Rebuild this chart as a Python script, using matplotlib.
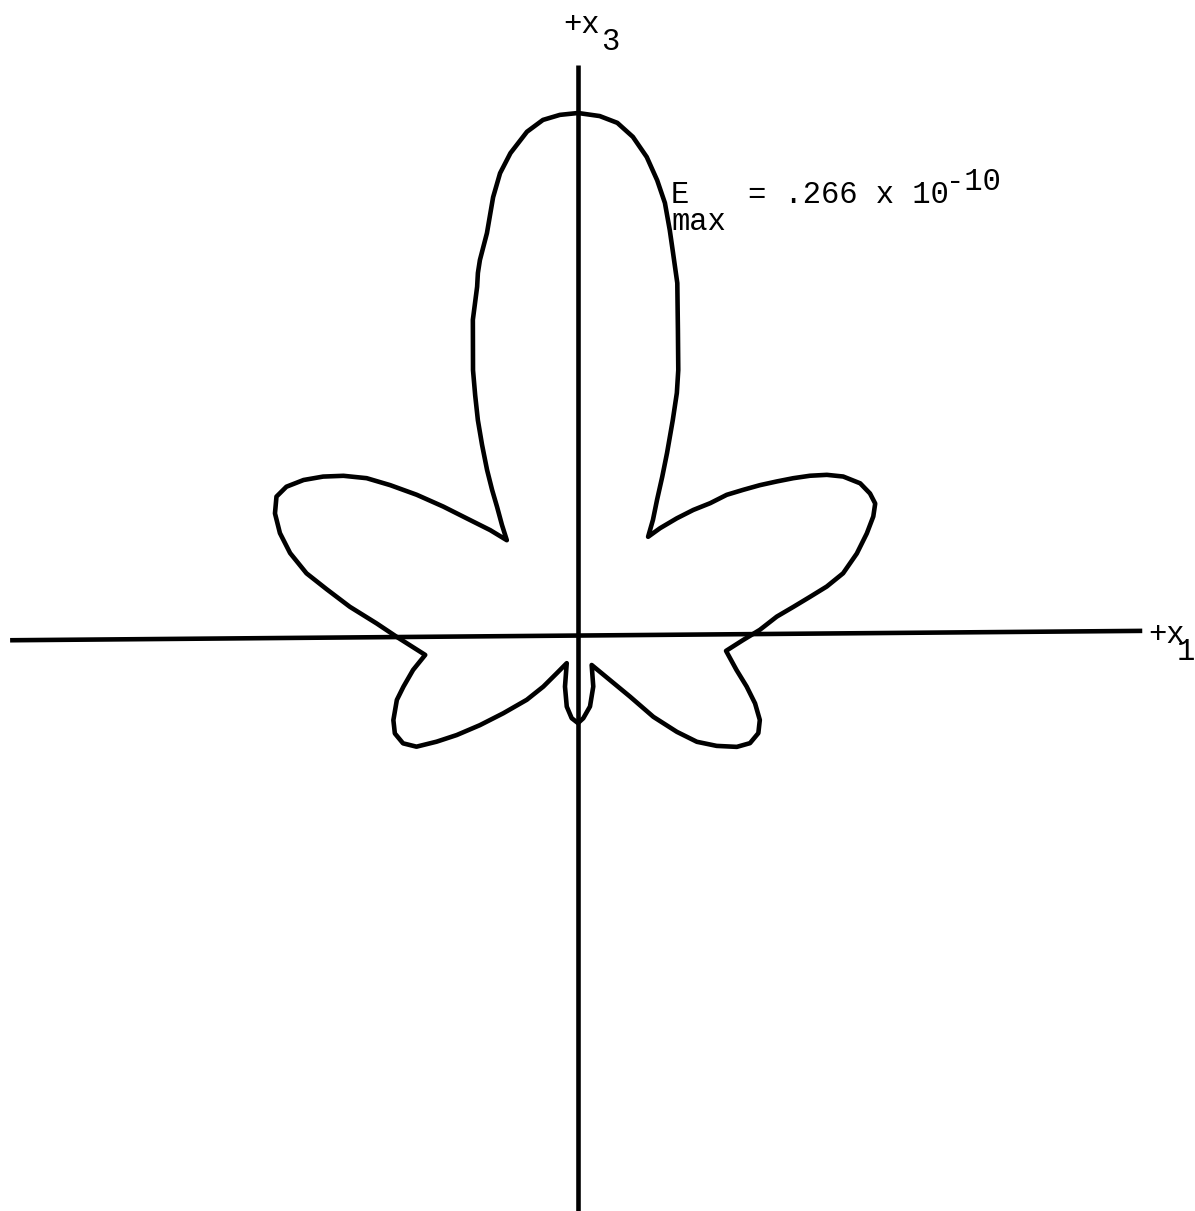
import numpy as np
import matplotlib
matplotlib.use('Agg')
import matplotlib.pyplot as plt

# radiation pattern in the x1-x3 plane: angle from +x3 toward +x1 (deg), field relative to E_max
theta_deg = [0.0, 2.4, 4.4, 6.3, 8.2, 9.9, 11.4, 12.8, 14.0, 15.8, 18.2, 20.8, 22.3, 23.9,
             25.0, 26.2, 28.2, 30.5, 33.3, 35.8,
             37.8, 40.5, 42.9, 45.3, 46.9, 48.9, 50.7, 52.5, 54.1, 55.7, 57.4, 59.3, 61.9,
             64.3, 66.3, 68.3, 70.8, 73.9, 77.1, 79.2, 80.9, 82.8, 85.0, 88.7, 92.1, 96.5,
             102.8, 107.3, 111.4, 115.3, 118.8, 122.4, 125.4, 128.9, 132.2, 134.7, 137.7,
             140.3, 145.2, 156.2,
             163.8, 170.6, 176.4, 180.0, 184.3, 188.8, 193.9, 201.1,
             208.5, 213.4, 217.9, 223.3, 227.1, 230.2, 232.7, 235.1, 238.0, 241.5, 245.0,
             250.0, 253.2, 257.7, 262.2,
             266.9, 269.1, 273.0, 276.8, 280.1, 282.6, 285.7, 288.7, 291.7, 294.5, 296.8,
             299.3, 301.7, 304.0, 306.4, 308.4, 310.8, 313.4, 316.1, 319.8, 322.8,
             325.1, 327.5, 329.2, 331.0, 333.1, 334.9, 336.7, 338.3, 341.5, 343.8, 344.5,
             345.3, 347.2, 349.0, 350.4, 352.0, 354.2, 356.1, 358.0]
e_rel = [1.000, 0.995, 0.984, 0.960, 0.925, 0.884, 0.844, 0.795, 0.754, 0.700, 0.614, 0.542, 0.500, 0.449,
         0.417, 0.387, 0.342, 0.299, 0.262, 0.230,
         0.257, 0.292, 0.325, 0.357, 0.391, 0.421, 0.451, 0.481, 0.510, 0.539, 0.567, 0.592, 0.614,
         0.622, 0.623, 0.610, 0.587, 0.557, 0.522, 0.486, 0.451, 0.417, 0.383, 0.349, 0.317, 0.286,
         0.312, 0.339, 0.365, 0.386, 0.395, 0.391, 0.374, 0.342, 0.308, 0.267, 0.215,
         0.156, 0.108, 0.065,
         0.105, 0.141, 0.162, 0.171, 0.162, 0.141, 0.104, 0.060,
         0.086, 0.121, 0.160, 0.209, 0.257, 0.303, 0.341, 0.378, 0.396, 0.400, 0.391,
         0.370, 0.350, 0.324, 0.296,
         0.329, 0.348, 0.387, 0.441, 0.490, 0.534, 0.574, 0.604, 0.626, 0.636, 0.627,
         0.604, 0.575, 0.543, 0.504, 0.460, 0.409, 0.356, 0.308, 0.261, 0.226,
         0.255, 0.289, 0.322, 0.360, 0.407, 0.453, 0.499, 0.545, 0.636, 0.694, 0.719,
         0.742, 0.789, 0.854, 0.897, 0.932, 0.969, 0.989, 0.997]

# axis lines (in units of E_max)
x1_axis_x = [-1.090, 1.083]
x1_axis_y = [-0.012, 0.006]
x3_axis_x = [0.0, 0.0]
x3_axis_y = [1.092, -1.107]

th = np.radians(theta_deg + [theta_deg[0]])
r = np.array(e_rel + [e_rel[0]])
x = r * np.sin(th)
y = r * np.cos(th)

fig = plt.figure(figsize=(11.95, 12.11), dpi=100)
ax = fig.add_axes([0, 0, 1, 1])
scale = 521.0  # pixels per E_max
ax.set_xlim(-578 / scale, (1195 - 578) / scale)
ax.set_ylim((634 - 1211) / scale, 634 / scale)
ax.axis('off')

lw = 3.3
ax.plot(x1_axis_x, x1_axis_y, color='black', lw=lw, solid_capstyle='butt')
ax.plot(x3_axis_x, x3_axis_y, color='black', lw=lw, solid_capstyle='butt')
ax.plot(x, y, color='black', lw=lw, solid_joinstyle='round', solid_capstyle='round')

font = dict(family='Liberation Mono', fontsize=22, color='black', va='baseline', ha='left')
ax.text(-0.029, 1.154, '+x', **font)
ax.text(0.061, 1.121, '3', **{**font, 'ha': 'center'})
ax.text(1.094, -0.017, '+x', **font)
ax.text(1.167, -0.050, '1', **{**font, 'ha': 'center'})

ax.text(0.177, 0.827, 'E', **font)
ax.text(0.180, 0.775, 'max', **font)
ax.text(0.326, 0.827, '= .266 x 10', **font)
ax.text(0.706, 0.852, '-10', **font)

fig.savefig('out.png', dpi=100, facecolor='white')
plt.close(fig)
